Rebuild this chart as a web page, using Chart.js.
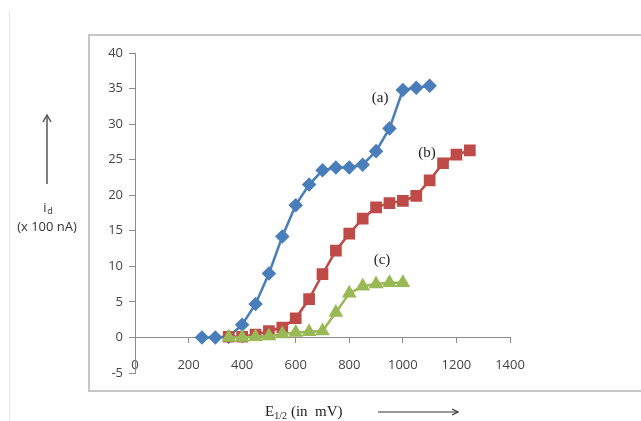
<!DOCTYPE html>
<html>
<head>
<meta charset="utf-8">
<script src="https://cdn.jsdelivr.net/npm/chart.js@4.4.1/dist/chart.umd.min.js"></script>
<style>
  html, body { margin: 0; padding: 0; background: #fff; }
  #wrap { position: relative; width: 641px; height: 421px; }
  canvas { display: block; }
</style>
</head>
<body>
<div id="wrap"><canvas id="chart" width="641" height="421"></canvas></div>
<script>
// E1/2 (mV) for each curve
const potentialA = [250, 300, 350, 400, 450, 500, 550, 600, 650, 700, 750, 800, 850, 900, 950, 1000, 1050, 1100];
const currentA   = [0, 0, 0.1, 1.8, 4.7, 9.0, 14.2, 18.6, 21.5, 23.5, 23.9, 23.9, 24.3, 26.2, 29.4, 34.8, 35.1, 35.4];

const potentialB = [350, 400, 450, 500, 550, 600, 650, 700, 750, 800, 850, 900, 950, 1000, 1050, 1100, 1150, 1200, 1250];
const currentB   = [0.1, 0.1, 0.4, 0.9, 1.4, 2.7, 5.4, 8.9, 12.2, 14.6, 16.7, 18.3, 18.9, 19.2, 19.9, 22.1, 24.5, 25.7, 26.3];

const potentialC = [350, 400, 450, 500, 550, 600, 650, 700, 750, 800, 850, 900, 950, 1000];
const currentC   = [0, 0, 0.1, 0.2, 0.5, 0.7, 0.8, 0.9, 3.5, 6.2, 7.2, 7.5, 7.7, 7.7];

// curve labels, placed in data units
const curveNames = ["(a)", "(b)", "(c)"];
const curveNameX = [915, 1090, 922];
const curveNameY = [33.7, 25.9, 10.9];

const toPoints = (xs, ys) => xs.map((x, i) => ({ x, y: ys[i] }));

const axisGrey = "#8c8c8c";
const tickFont = { family: "'Open Sans', sans-serif", size: 13 };
const tickColor = "#444";

const decorations = {
  id: "decorations",
  beforeDraw(chart) {
    const ctx = chart.ctx;
    ctx.save();
    // faint page edge
    ctx.strokeStyle = "#e3e6ee";
    ctx.lineWidth = 1;
    ctx.beginPath();
    ctx.moveTo(9.5, 11);
    ctx.lineTo(9.5, 421);
    ctx.stroke();
    // chart frame
    ctx.strokeStyle = "#c6c6c6";
    ctx.lineWidth = 2;
    ctx.strokeRect(89, 35, 600, 356);
    ctx.restore();
  },
  afterDraw(chart) {
    const ctx = chart.ctx;
    const { x, y } = chart.scales;
    ctx.save();

    // curve names
    ctx.fillStyle = "#222";
    ctx.font = "15px 'Liberation Serif', serif";
    ctx.textAlign = "center";
    ctx.textBaseline = "middle";
    curveNames.forEach((name, i) => {
      ctx.fillText(name, x.getPixelForValue(curveNameX[i]), y.getPixelForValue(curveNameY[i]));
    });

    // y title with arrow
    ctx.strokeStyle = "#555";
    ctx.lineWidth = 1.5;
    ctx.beginPath();
    ctx.moveTo(47, 184);
    ctx.lineTo(47, 117);
    ctx.stroke();
    ctx.beginPath();
    ctx.moveTo(43, 122);
    ctx.lineTo(47, 115);
    ctx.lineTo(51, 122);
    ctx.stroke();

    ctx.fillStyle = "#333";
    ctx.font = "13px 'Open Sans', sans-serif";
    ctx.textAlign = "center";
    ctx.textBaseline = "alphabetic";
    ctx.fillText("i", 45, 212);
    ctx.font = "9px 'Open Sans', sans-serif";
    ctx.fillText("d", 50, 214);
    ctx.font = "13px 'Open Sans', sans-serif";
    ctx.fillText("(x 100 nA)", 47, 231);

    // x title with arrow
    ctx.fillStyle = "#222";
    ctx.textAlign = "left";
    ctx.font = "15px 'Liberation Serif', serif";
    ctx.fillText("E", 265, 416);
    let tx = 265 + ctx.measureText("E").width;
    ctx.font = "10px 'Liberation Serif', serif";
    ctx.fillText("1/2", tx, 419);
    tx += ctx.measureText("1/2").width + 4;
    ctx.font = "15px 'Liberation Serif', serif";
    ctx.fillText("(in  mV)", tx, 416);

    ctx.strokeStyle = "#333";
    ctx.lineWidth = 1.2;
    ctx.beginPath();
    ctx.moveTo(378, 412);
    ctx.lineTo(458, 412);
    ctx.stroke();
    ctx.beginPath();
    ctx.moveTo(452, 409);
    ctx.lineTo(458, 412);
    ctx.lineTo(452, 415);
    ctx.stroke();

    ctx.restore();
  },
};

new Chart(document.getElementById("chart"), {
  type: "line",
  data: {
    datasets: [
      {
        label: "(a)",
        data: toPoints(potentialA, currentA),
        borderColor: "#4a7ebb",
        backgroundColor: "#4a7ebb",
        pointStyle: "rectRot",
        pointRadius: 5.5,
        borderWidth: 2.5,
        order: 2,
      },
      {
        label: "(b)",
        data: toPoints(potentialB, currentB),
        borderColor: "#be4b48",
        backgroundColor: "#be4b48",
        pointStyle: "rect",
        pointRadius: 6.5,
        borderWidth: 2.5,
        order: 1,
      },
      {
        label: "(c)",
        data: toPoints(potentialC, currentC),
        borderColor: "#98b954",
        backgroundColor: "#98b954",
        pointStyle: "triangle",
        pointRadius: 6,
        borderWidth: 2.5,
        order: 0,
      },
    ],
  },
  options: {
    responsive: false,
    animation: false,
    events: [],
    layout: { padding: { left: 95, right: 131, top: 53, bottom: 48 } },
    elements: { line: { tension: 0 }, point: { borderWidth: 0 } },
    plugins: { legend: { display: false }, tooltip: { enabled: false } },
    scales: {
      x: {
        type: "linear",
        min: 0,
        max: 1400,
        position: { y: 0 },
        ticks: {
          stepSize: 200,
          font: tickFont,
          color: tickColor,
          padding: 15,
          maxRotation: 0,
          callback: (v) => String(v),
        },
        grid: { drawOnChartArea: false, drawTicks: true, tickLength: 5, color: axisGrey },
        border: { display: true, color: axisGrey, width: 1 },
        afterFit: (scale) => { scale.height = 0; },
      },
      y: {
        min: -5,
        max: 40,
        ticks: { stepSize: 5, font: tickFont, color: tickColor, padding: 6 },
        grid: { drawOnChartArea: false, drawTicks: true, tickLength: 6, color: axisGrey },
        border: { display: true, color: axisGrey, width: 1 },
        afterFit: (scale) => { scale.width = 40; },
      },
    },
  },
  plugins: [decorations],
});
</script>
</body>
</html>
